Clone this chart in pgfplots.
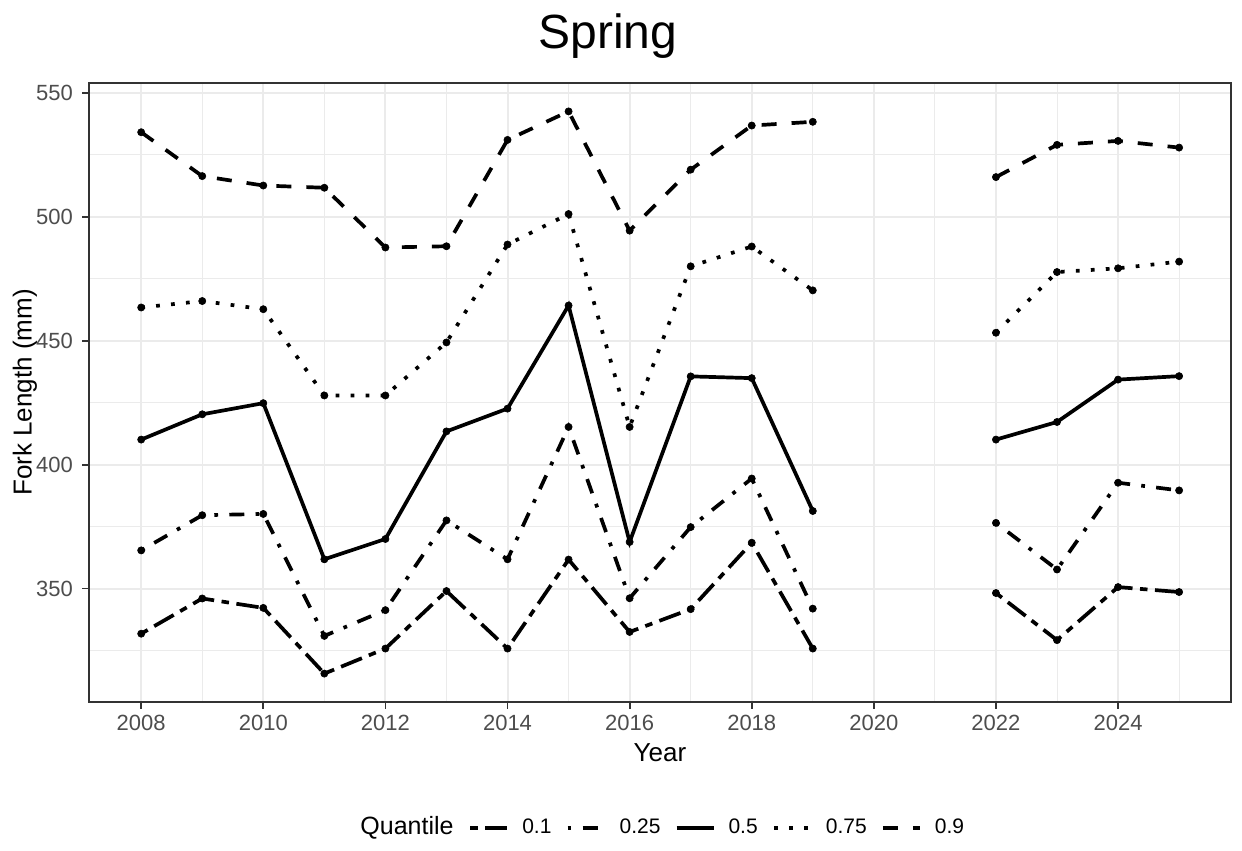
\documentclass[border=0pt]{standalone}
\usepackage{pgfplots}
\pgfplotsset{compat=1.18}
\usepackage{pgfplotstable}
\usepackage{fontspec}
\setmainfont{Liberation Sans}
\definecolor{grid92}{HTML}{EBEBEB}
\definecolor{grey20}{HTML}{333333}
\definecolor{grey30}{HTML}{4D4D4D}
\pgfplotstableread{
year q10 q25 q50 q75 q90
2008 331.8 365.4 410.1 463.4 534.1
2009 346.0 379.6 420.3 466.0 516.4
2010 342.2 380.1 424.8 462.7 512.6
2011 315.7 330.9 361.8 427.9 511.7
2012 325.8 341.3 370.0 427.9 487.6
2013 349.0 377.5 413.4 449.3 488.1
2014 325.8 361.8 422.6 488.8 531.0
2015 361.7 415.2 464.2 501.1 542.5
2016 332.5 346.1 368.8 415.2 494.4
2017 341.7 374.8 435.6 480.0 519.0
2018 368.5 394.4 434.9 488.0 536.8
2019 325.8 341.9 381.3 470.3 538.3
2020 nan nan nan nan nan
2021 nan nan nan nan nan
2022 348.2 376.5 410.1 453.2 516.0
2023 329.2 357.7 417.2 477.7 529.0
2024 350.6 392.7 434.3 479.2 530.6
2025 348.6 389.6 435.7 481.9 527.9
}\data
\begin{document}
\begin{tikzpicture}
\path[use as bounding box] (0bp,0bp) rectangle (621bp,425.5bp);
\begin{axis}[
  at={(44.65bp,74.65bp)}, anchor=south west,
  scale only axis, width=570.85bp, height=309.2bp,
  xmin=2007.15, xmax=2025.85, ymin=304.36, ymax=553.84,
  xtick={2008,2010,...,2024}, minor xtick={2009,2011,...,2025},
  ytick={350,400,...,550}, minor ytick={325,375,...,525},
  /pgf/number format/assume math mode=true,
  /pgf/number format/1000 sep={},
  grid=both,
  major grid style={draw=grid92, line width=1bp},
  minor grid style={draw=grid92, line width=0.5bp},
  axis line style={draw=grey20, line width=0.9bp},
  xtick pos=bottom, ytick pos=left,
  tick align=outside,
  major tick length=3.5bp, minor tick length=0bp,
  major tick style={draw=grey20, line width=0.9bp},
  tick label style={font=\fontsize{11bp}{13bp}\selectfont, text=grey30},
  yticklabel style={anchor=east, inner sep=0pt, xshift=-4.5bp},
  xticklabel style={anchor=north, inner sep=0pt, yshift=-3bp},
  unbounded coords=jump,
  every axis plot/.append style={line width=1.85bp, line cap=butt, mark=*, mark size=1.8bp, mark options={solid, fill=black, draw=black, line width=0.3bp}},
  legend image code/.code={\draw[#1, mark=none] (0bp,0bp) -- (18.5bp,0bp);},
  legend columns=5,
  legend style={at={(0.3317,-0.2042)}, anchor=west, draw=none, fill=none, inner sep=0pt,
    font=\fontsize{10.5bp}{12bp}\selectfont,
    nodes={inner xsep=0bp, inner ysep=1bp},
    /tikz/every odd column/.append style={column sep=6.6bp},
    /tikz/every even column/.append style={column sep=7.1bp}},
]
\addplot[black, dash pattern=on 3.75bp off 3.75bp on 11.25bp off 3.75bp] table[x=year, y=q10] {\data};
\addlegendentry{0.1}
\addplot[black, dash pattern=on 1.875bp off 5.625bp on 7.5bp off 5.625bp] table[x=year, y=q25] {\data};
\addlegendentry{0.25}
\addplot[black, solid] table[x=year, y=q50] {\data};
\addlegendentry{0.5}
\addplot[black, dash pattern=on 1.875bp off 5.625bp] table[x=year, y=q75] {\data};
\addlegendentry{0.75}
\addplot[black, dash pattern=on 7.5bp off 7.5bp] table[x=year, y=q90] {\data};
\addlegendentry{0.9}
\end{axis}
\node[anchor=base, font=\fontsize{24bp}{28bp}\selectfont] at (304bp,401bp) {Spring};
\node[anchor=base, font=\fontsize{13bp}{15bp}\selectfont] at (330bp,44.65bp) {Year};
\node[rotate=90, font=\fontsize{13bp}{15bp}\selectfont] at (12.5bp,229.25bp) {Fork Length (mm)};
\node[anchor=east, inner sep=0pt, font=\fontsize{12.5bp}{15bp}\selectfont] at (227bp,11.5bp) {Quantile};
\end{tikzpicture}
\end{document}
